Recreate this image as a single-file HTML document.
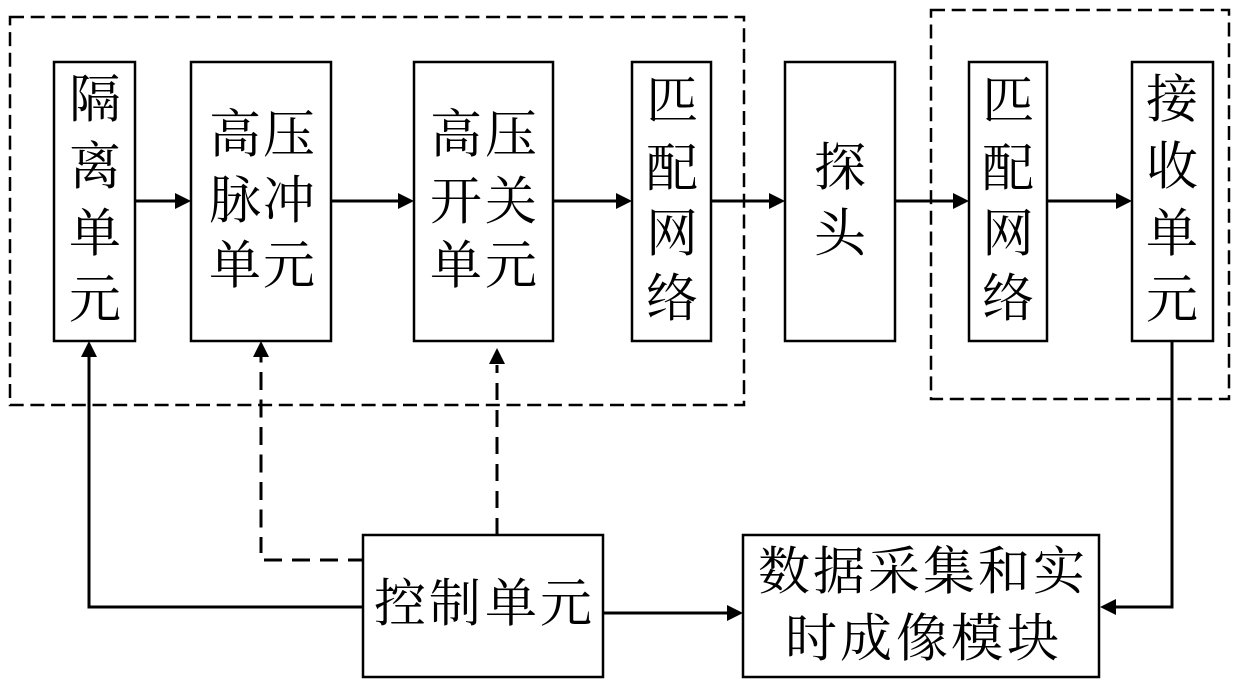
<!DOCTYPE html>
<html><head><meta charset="utf-8"><style>
html,body{margin:0;padding:0;background:#fff}
svg{display:block}
text{font-family:"Liberation Serif","Noto Serif CJK SC",serif;font-size:52px;fill:#000;text-anchor:middle;dominant-baseline:central}
</style></head><body>
<svg width="1240" height="688" viewBox="0 0 1240 688" xmlns="http://www.w3.org/2000/svg">
<g fill="none" stroke="#000" stroke-width="2.5" stroke-dasharray="14 6.7">
<rect x="10" y="17" width="734" height="388"/>
<rect x="931" y="10" width="298" height="389"/>
</g>
<g fill="#fff" stroke="#000" stroke-width="2.5">
<rect x="54" y="62" width="81" height="279"/>
<rect x="191" y="62" width="140" height="279"/>
<rect x="414" y="62" width="139" height="279"/>
<rect x="632" y="62" width="79" height="279"/>
<rect x="785" y="62" width="110" height="279"/>
<rect x="969" y="62" width="78" height="279"/>
<rect x="1132" y="62" width="81" height="279"/>
<rect x="363" y="535" width="240" height="142"/>
<rect x="743" y="535" width="356" height="142"/>
</g>
<g fill="none" stroke="#000" stroke-width="3">
<path d="M135 201H176M331 201H399M553 201H617M711 201H770M895 201H954M1047 201H1117"/>
<path d="M89 356V607H363"/>
<path d="M603 613H728"/>
<path d="M1172 341V607H1115"/>
<path d="M261 344.5V553" stroke-dasharray="18 9.5"/>
<path d="M264 560H363" stroke-dasharray="18 10"/>
<path d="M497 535V365" stroke-dasharray="17 10"/>
</g>
<g fill="#000">
<path d="M191 201l-16 -8v16z"/><path d="M414 201l-16 -8v16z"/><path d="M632 201l-16 -8v16z"/><path d="M785 201l-16 -8v16z"/><path d="M969 201l-16 -8v16z"/><path d="M1132 201l-16 -8v16z"/>
<path d="M89 341l-8 16h16z"/><path d="M261 341l-8 16h16z"/><path d="M497 348l-8 16h16z"/>
<path d="M743 613l-16 -8v16z"/><path d="M1100 607l16 -8v16z"/>
</g>
<text x="95" y="101">隔</text><text x="95" y="168">离</text><text x="95" y="235">单</text><text x="95" y="301">元</text>
<text x="235" y="136">高</text><text x="289" y="136">压</text><text x="235" y="202">脉</text><text x="289" y="202">冲</text><text x="235" y="267">单</text><text x="289" y="267">元</text>
<text x="456" y="136">高</text><text x="511" y="136">压</text><text x="456" y="203">开</text><text x="511" y="203">关</text><text x="456" y="267">单</text><text x="511" y="267">元</text>
<text x="672" y="102">匹</text><text x="672" y="170">配</text><text x="672" y="235">网</text><text x="672" y="300">络</text>
<text x="840" y="169">探</text><text x="840" y="235">头</text>
<text x="1008" y="102">匹</text><text x="1008" y="170">配</text><text x="1008" y="235">网</text><text x="1008" y="300">络</text>
<text x="1172" y="101">接</text><text x="1172" y="168">收</text><text x="1172" y="235">单</text><text x="1172" y="301">元</text>
<text x="400" y="605">控</text><text x="455" y="605">制</text><text x="511" y="605">单</text><text x="566" y="605">元</text>
<text x="784" y="573">数</text><text x="839" y="573">据</text><text x="894" y="573">采</text><text x="949" y="573">集</text><text x="1004" y="573">和</text><text x="1059" y="573">实</text>
<text x="811" y="640">时</text><text x="866" y="640">成</text><text x="922" y="640">像</text><text x="977" y="640">模</text><text x="1033" y="640">块</text>
</svg>
</body></html>
